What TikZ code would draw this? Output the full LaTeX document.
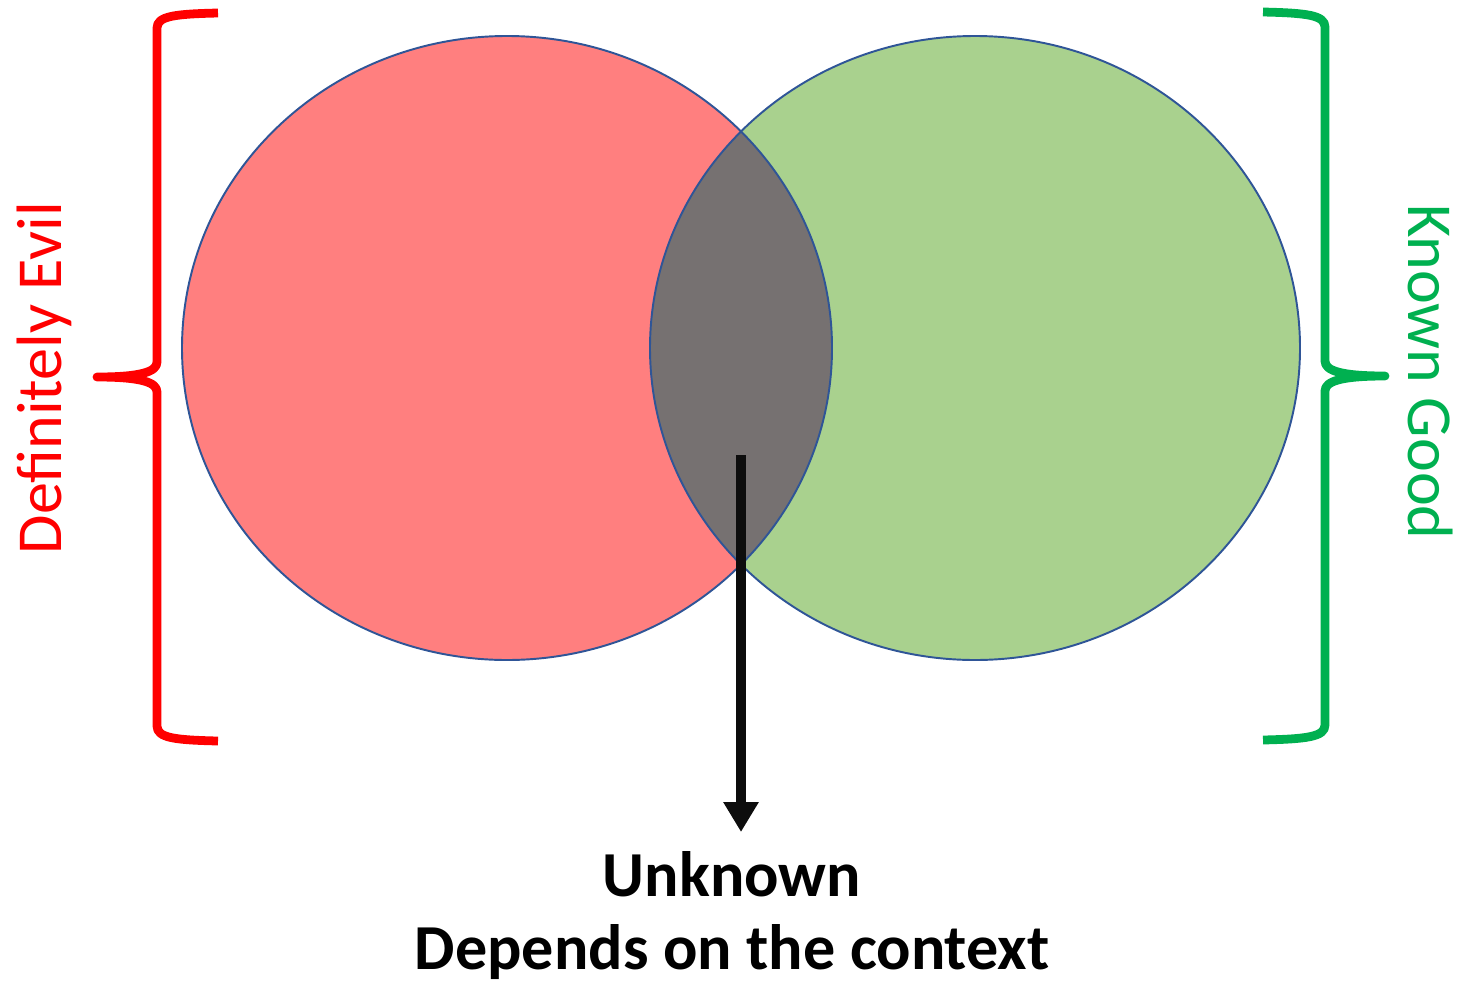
\documentclass[tikz,border=0pt]{standalone}
\usepackage{fontspec}
\setmainfont{Carlito}
\usetikzlibrary{arrows.meta}
\definecolor{redfill}{HTML}{FF7F7F}
\definecolor{greenfill}{HTML}{A9D18E}
\definecolor{grayfill}{HTML}{767171}
\definecolor{outline}{HTML}{2F5597}
\definecolor{bred}{HTML}{FF0000}
\definecolor{bgreen}{HTML}{00B050}
\tikzset{
  setline/.style={draw=outline, line width=1.1pt},
  bracestroke/.style={line width=5pt, line cap=butt, line join=round},
  bigtext/.style={font=\fontsize{36.5}{42}\selectfont, inner sep=0pt},
  boldtext/.style={font=\fontsize{36.5}{42}\selectfont\bfseries, inner sep=0pt, anchor=base},
}
\begin{document}
\begin{tikzpicture}[x=0.02cm, y=-0.02cm]
\useasboundingbox (0,0) rectangle (1463,984);
% sets
\coordinate (L) at (507,348);
\coordinate (R) at (975,348);
\fill[redfill] (L) ellipse [x radius=325, y radius=312];
\fill[greenfill] (R) ellipse [x radius=325, y radius=312];
\begin{scope}
  \clip (L) ellipse [x radius=325, y radius=312];
  \fill[grayfill] (R) ellipse [x radius=325, y radius=312];
\end{scope}
\draw[setline] (L) ellipse [x radius=325, y radius=312];
\draw[setline] (R) ellipse [x radius=325, y radius=312];
% left brace
\draw[bred, bracestroke] (218,13) .. controls (175,14) and (157,16) .. (157,28) -- (157,362)
  .. controls (157,372) and (140,377) .. (97,377)
  .. controls (140,377) and (157,382) .. (157,392) -- (157,726)
  .. controls (157,738) and (175,740) .. (218,741);
% right brace
\draw[bgreen, bracestroke] (1263,12) .. controls (1306,13) and (1325,15) .. (1325,27) -- (1325,361)
  .. controls (1325,371) and (1342,376) .. (1385,376)
  .. controls (1342,376) and (1325,381) .. (1325,391) -- (1325,725)
  .. controls (1325,737) and (1306,739) .. (1263,740);
% side labels
\node[bigtext, text=bred, rotate=90] (evil) at (44,378) {Definitely Evil};
\node[bigtext, text=bgreen, rotate=-90] (good) at (1431,372) {Known Good};
% bottom labels
\node[boldtext] (unk) at (732,896) {Unknown};
\node[boldtext] (dep) at (732,969) {Depends on the context};
% arrow
\coordinate (a0) at (741,455);
\coordinate (a1) at (741,832);
\draw[line width=5.7pt, color=black!95, -{Triangle[width=19pt, length=17pt]}] (a0) -- (a1);
\end{tikzpicture}
\end{document}
